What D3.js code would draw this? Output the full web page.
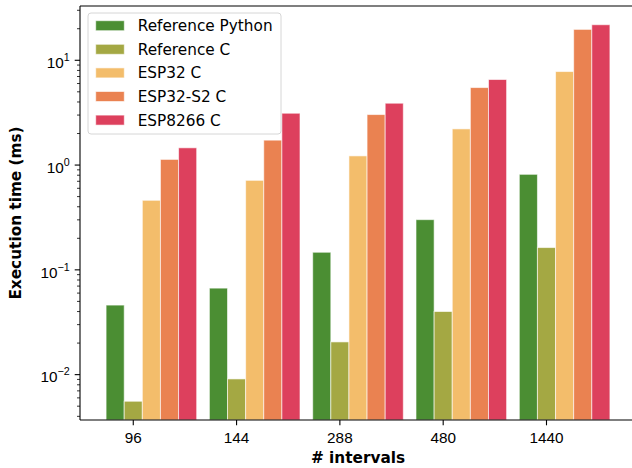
<!DOCTYPE html>
<html>
<head>
<meta charset="utf-8">
<script src="https://cdn.jsdelivr.net/npm/d3@7"></script>
<style>
    body { margin: 0; background: #fff; }
    svg { display: block; font-family: 'DejaVu Sans', sans-serif; }
    .axis text { font-size: 15.3px; fill: #000; }
    .axis line { stroke: #000; stroke-width: 1.1; }
    .legend text { font-size: 15.3px; fill: #000; }
    .axis-label { font-size: 15.3px; font-weight: bold; fill: #000; }
</style>
</head>
<body>
<svg id="chart"></svg>
<script>
//data
var intervals = ['96', '144', '288', '480', '1440'];
var seriesNames = ['Reference Python', 'Reference C', 'ESP32 C', 'ESP32-S2 C', 'ESP8266 C'];
var refPython = [0.0456, 0.0662, 0.1456, 0.298, 0.807];
var refC = [0.00551, 0.0090, 0.0203, 0.0396, 0.1614];
var esp32 = [0.456, 0.707, 1.21, 2.19, 7.72];
var esp32s2 = [1.12, 1.71, 3.0, 5.43, 19.5];
var esp8266 = [1.445, 3.09, 3.85, 6.48, 21.6];
var yTicks = [0.01, 0.1, 1, 10];
var colors = ['#4b8e33', '#a4a843', '#f3bd6b', '#ea8251', '#dd405d'];

//chart parameters
var svg = d3.select('#chart')
    .attr('width', 632)
    .attr('height', 468);

//define margins and chart extent (right spine falls outside the picture)
var margin = {top: 6, right: -4, bottom: 48, left: 80},
    width = 632 - margin.left - margin.right,
    height = 468 - margin.top - margin.bottom;

//build rows from the arrays
var series = [refPython, refC, esp32, esp32s2, esp8266];
var data = intervals.map((c, i) => ({
    interval: c,
    values: seriesNames.map((s, j) => ({name: s, value: series[j][i]}))
}));

//define scales
var xScale = d3.scaleBand().domain(intervals).range([0, width])
        .paddingInner(0.123).paddingOuter(0.2525),
    xSub = d3.scaleBand().domain(seriesNames).range([0, xScale.bandwidth()]),
    yScale = d3.scaleLog().domain([0.00365, 32.6]).range([height, 0]);

var colorScale = d3.scaleOrdinal().domain(seriesNames).range(colors);

//create chart group
var canvas = svg.append('g')
    .attr('transform', 'translate(' + margin.left + ',' + margin.top + ')');

//bars
var group = canvas.selectAll('.group').data(data)
    .enter().append('g')
        .attr('class', 'group')
        .attr('transform', d => 'translate(' + xScale(d.interval) + ',0)');

group.selectAll('rect').data(d => d.values)
    .enter().append('rect')
        .attr('x', d => xSub(d.name))
        .attr('y', d => yScale(d.value))
        .attr('width', xSub.bandwidth())
        .attr('height', d => height - yScale(d.value))
        .style('fill', d => colorScale(d.name))
        .style('stroke', '#fff')
        .style('stroke-opacity', 0.6)
        .style('stroke-width', 1);

//x axis, ticks sit on the second bar of each group
var xAxis = canvas.append('g')
    .attr('class', 'axis axis-x')
    .attr('transform', 'translate(' + (-xSub.step()) + ',' + height + ')')
    .call(d3.axisBottom(xScale).tickSize(5.3).tickPadding(6.5));
xAxis.select('.domain').remove();
xAxis.selectAll('text').attr('dy', '0.71em');

//y minor ticks
var minor = [];
[0.001, 0.01, 0.1, 1, 10].forEach(p => {
    for (var k = 2; k <= 9; k++) {
        var v = p * k;
        if (v >= yScale.domain()[0] && v <= yScale.domain()[1]) minor.push(v);
    }
});
var yMinor = canvas.append('g')
    .attr('class', 'axis axis-y-minor')
    .call(d3.axisLeft(yScale).tickValues(minor).tickSize(3).tickFormat(''));
yMinor.select('.domain').remove();
yMinor.selectAll('line').style('stroke-width', 0.8);

//y major ticks with superscript labels
var yAxis = canvas.append('g')
    .attr('class', 'axis axis-y')
    .call(d3.axisLeft(yScale).tickValues(yTicks).tickSize(5.3).tickPadding(5));
yAxis.select('.domain').remove();
yAxis.selectAll('text')
    .text('')
    .attr('dy', '0.5em')
    .each(function(d) {
        var t = d3.select(this);
        var e = Math.round(Math.log10(d));
        t.append('tspan').text('10');
        t.append('tspan')
            .attr('dy', -7)
            .style('font-size', '10.7px')
            .text(String(e).replace('-', '\u2212'));
    });

//spines
canvas.append('line')
    .attr('x1', 0).attr('x2', 0).attr('y1', 0).attr('y2', height)
    .style('stroke', '#000').style('stroke-width', 1.1);
canvas.append('line')
    .attr('x1', 0).attr('x2', width).attr('y1', height).attr('y2', height)
    .style('stroke', '#000').style('stroke-width', 1.1);
canvas.append('line')
    .attr('x1', 0).attr('x2', width).attr('y1', 0).attr('y2', 0)
    .style('stroke', '#000').style('stroke-width', 1.1);

//axis labels
svg.append('text')
    .attr('class', 'axis-label')
    .attr('text-anchor', 'middle')
    .attr('transform', 'translate(21,' + (margin.top + height / 2) + ') rotate(-90)')
    .text('Execution time (ms)');

svg.append('text')
    .attr('class', 'axis-label')
    .attr('text-anchor', 'middle')
    .attr('x', margin.left + width / 2)
    .attr('y', 463)
    .text('# intervals');

//legend
var legend = svg.append('g').attr('class', 'legend');
legend.append('rect')
    .attr('x', 88).attr('y', 13)
    .attr('width', 193).attr('height', 121)
    .attr('rx', 3)
    .style('fill', '#fff').style('fill-opacity', 0.8)
    .style('stroke', '#d6d6d6').style('stroke-width', 1);

var item = legend.selectAll('.item').data(seriesNames)
    .enter().append('g')
        .attr('class', 'item')
        .attr('transform', (d, i) => 'translate(0,' + (25.7 + i * 23.6) + ')');
item.append('rect')
    .attr('x', 95.7).attr('y', -5)
    .attr('width', 28.6).attr('height', 10)
    .style('fill', d => colorScale(d))
    .style('stroke', '#fff').style('stroke-opacity', 0.6);
item.append('text')
    .attr('x', 137.7).attr('y', 5.5)
    .text(d => d);
</script>
</body>
</html>
